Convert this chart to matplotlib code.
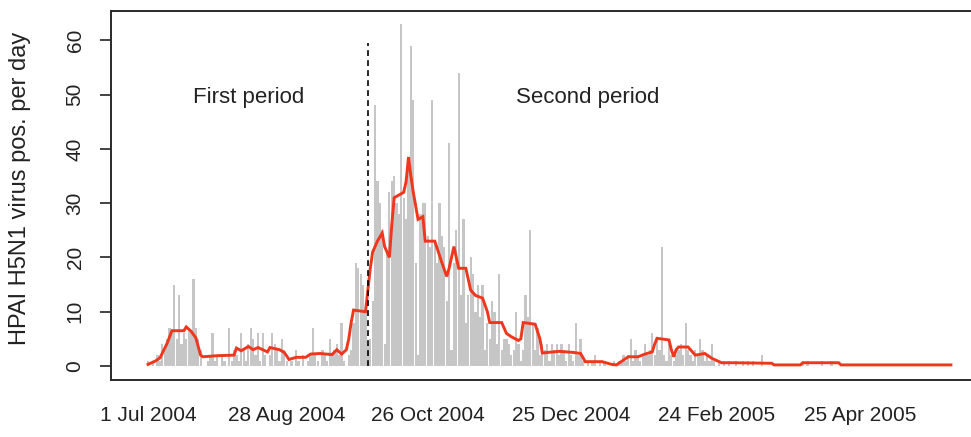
import numpy as np
import pandas as pd
import matplotlib
matplotlib.use("Agg")
import matplotlib.pyplot as plt

plt.rcParams['font.family'] = ['Liberation Sans', 'DejaVu Sans']

# ---------------- data ----------------
start_date = "2004-07-01"

# daily number of HPAI H5N1 virus positives (bars), day 0 = 1 Jul 2004
daily_positives = [
    1, 0, 1, 0, 2, 1, 4, 3, 5, 7,          # 0-9
    6, 15, 5, 13, 4, 6, 5, 7, 6, 16,       # 10-19
    7, 5, 3, 0, 0, 1, 2, 6, 1, 2,          # 20-29
    0, 2, 1, 0, 7, 1, 3, 2, 1, 6,          # 30-39
    3, 1, 4, 7, 5, 2, 6, 1, 6, 2,          # 40-49
    0, 2, 6, 4, 3, 1, 5, 3, 1, 0,          # 50-59
    1, 0, 3, 1, 0, 2, 0, 1, 2, 7,          # 60-69
    2, 1, 0, 3, 2, 1, 5, 2, 3, 4,          # 70-79
    2, 8, 1, 0, 2, 3, 8, 19, 18, 17,       # 80-89
    15, 10, 4, 5, 12, 48, 34, 30, 25, 4,   # 90-99
    21, 32, 34, 35, 30, 28, 63, 31, 27, 36,  # 100-109
    59, 49, 19, 2, 28, 30, 30, 24, 22, 49,   # 110-119
    23, 19, 30, 24, 22, 12, 41, 3, 19, 25,   # 120-129
    54, 13, 27, 8, 13, 20, 17, 10, 15, 9,    # 130-139
    15, 3, 8, 5, 12, 10, 4, 17, 3, 5,        # 140-149
    5, 4, 2, 3, 10, 4, 1, 3, 13, 9,          # 150-159
    25, 8, 3, 7, 2, 4, 3, 4, 1, 4,           # 160-169
    3, 4, 2, 4, 3, 1, 4, 2, 1, 8,            # 170-179
    2, 5, 1, 0, 1, 0, 1, 2, 0, 1,            # 180-189
    0, 1, 0, 0, 0, 1, 0, 1, 1, 2,            # 190-199
    1, 2, 5, 1, 3, 2, 1, 2, 4, 2,            # 200-209
    3, 6, 2, 5, 3, 22, 2, 1, 4, 2,           # 210-219
    1, 2, 3, 4, 2, 8, 3, 2, 1, 3,            # 220-229
    2, 5, 3, 1, 2, 1, 4, 1, 0, 1,            # 230-239
    0, 1, 0, 1, 0, 0, 1, 0, 0, 1,            # 240-249
    0, 1, 0, 1, 0, 0, 0, 2, 0, 0,            # 250-259
    0, 0, 0, 0, 0, 0, 0, 0, 0, 0,            # 260-269
    0, 0, 0, 0, 1, 0, 1, 0, 0, 0,            # 270-279
    0, 0, 1, 0, 0, 0, 1, 0, 0, 0,            # 280-289
    0, 0, 0, 0, 0, 0, 0, 0, 0, 0,            # 290-299
    0, 0, 0, 0, 0, 0, 0, 0, 0, 0,            # 300-309
    0, 0, 0, 0, 0, 0, 0, 0, 0, 0,            # 310-319
    0, 0, 0, 0, 0, 0, 0, 0, 0, 0,            # 320-329
    0, 0, 0, 0, 0, 0, 0,                     # 330-336
]

# moving-average curve (red): day offsets and values
smooth_days = [0, 3, 5, 8, 10, 15, 16, 18, 20, 22, 23, 29, 36, 37, 39, 42, 44, 46,
               50, 51, 55, 57, 59, 62, 66, 68, 72, 77, 79, 81, 83, 84, 85, 86, 91,
               92, 93, 94, 96, 98, 99, 101, 102, 103, 107, 108, 109, 110, 111, 113,
               115, 116, 120, 123, 125, 126, 128, 130, 133, 135, 137, 140, 142, 143,
               148, 150, 152, 155, 156, 157, 162, 164, 165, 172, 178, 181, 183, 190,
               194, 196, 198, 201, 205, 208, 211, 212, 213, 218, 219, 220, 221, 222,
               226, 228, 229, 233, 234, 236, 238, 240, 245, 261, 262, 273, 274, 289,
               290, 336]
smooth_vals = [0.3, 0.9, 1.5, 4.2, 6.5, 6.5, 7.2, 6.4, 5.2, 2.0, 1.7, 1.9, 2.0, 3.3,
               2.8, 3.6, 3.0, 3.4, 2.6, 3.4, 3.0, 2.5, 1.2, 1.6, 1.6, 2.2, 2.3, 2.1,
               3.0, 2.2, 3.0, 5.0, 8.0, 10.3, 10.0,
               14.0, 18.0, 21.0, 23.0, 24.5, 22.0, 20.0, 26.0, 31.0, 32.0, 34.0, 38.5,
               35.0, 32.0, 27.0, 27.5, 23.0, 23.0, 19.0, 16.5, 18.0, 22.0, 18.0, 18.0,
               14.0, 13.0, 12.5, 10.0, 8.0, 8.0, 6.0, 5.4, 4.7, 5.0, 8.0, 7.7, 5.0,
               2.4, 2.7, 2.5, 2.3, 0.8, 0.8, 0.3, 0.2, 0.8, 1.7, 1.7, 2.2, 2.6, 4.0,
               5.1, 4.8, 3.0, 1.7, 3.0, 3.5, 3.5, 2.5, 2.0, 2.3, 2.0, 1.4, 1.0, 0.6,
               0.6, 0.5, 0.2, 0.2, 0.6, 0.6, 0.2, 0.2]

period_split_date = "2004-10-01"
tick_dates = ["2004-07-01", "2004-08-28", "2004-10-26", "2004-12-25",
              "2005-02-24", "2005-04-25"]
tick_labels = ["1 Jul 2004", "28 Aug 2004", "26 Oct 2004", "25 Dec 2004",
               "24 Feb 2005", "25 Apr 2005"]
y_ticks = [0, 10, 20, 30, 40, 50, 60]
period_labels = ["First period", "Second period"]
period_label_dates = ["2004-08-12", "2005-01-01"]

# ---------------- plot ----------------
t0 = pd.Timestamp(start_date)
def day_of(d):
    return (pd.Timestamp(d) - t0).days

W, H = 971, 437
fig = plt.figure(figsize=(W / 100, H / 100), dpi=100)
ax_left, ax_right, ax_bottom, ax_top = 111, 982, 380, 11
ax = fig.add_axes([ax_left / W, 1 - ax_bottom / H,
                   (ax_right - ax_left) / W, (ax_bottom - ax_top) / H])

days = np.arange(len(daily_positives))
ax.bar(days, daily_positives, width=0.92, color="#c6c6c6", edgecolor="none",
       zorder=1)
ax.plot(smooth_days, smooth_vals, color="#f0361c", lw=2.1, zorder=3,
        solid_joinstyle="miter")

split = day_of(period_split_date)
ax.plot([split, split], [0, 59.5], color="black", lw=1.2,
        linestyle=(0, (3.5, 2.5)), zorder=4)

for lab, d in zip(period_labels, period_label_dates):
    ax.text(day_of(d), 49.5, lab, ha="center", va="center", fontsize=16,
            color="#222222")

ax.set_xlim(-15.5, 349)
ax.set_ylim(-2.58, 65.4)

ax.set_xticks([day_of(d) for d in tick_dates])
ax.set_xticklabels(tick_labels)
ax.tick_params(axis="x", length=0, pad=19, labelsize=15, colors="#222222")

ax.set_yticks(y_ticks)
ax.set_yticklabels([str(v) for v in y_ticks], rotation=90, va="center")
ax.tick_params(axis="y", length=8, width=1.2, pad=11, labelsize=15,
               colors="#222222")
ax.set_ylabel("HPAI H5N1 virus pos. per day", fontsize=17, color="#222222")
ax.yaxis.set_label_coords(-0.092, 0.52)

for s in ax.spines.values():
    s.set_linewidth(1.4)
    s.set_color("#2a2a2a")

fig.savefig("out.png", dpi=100)
